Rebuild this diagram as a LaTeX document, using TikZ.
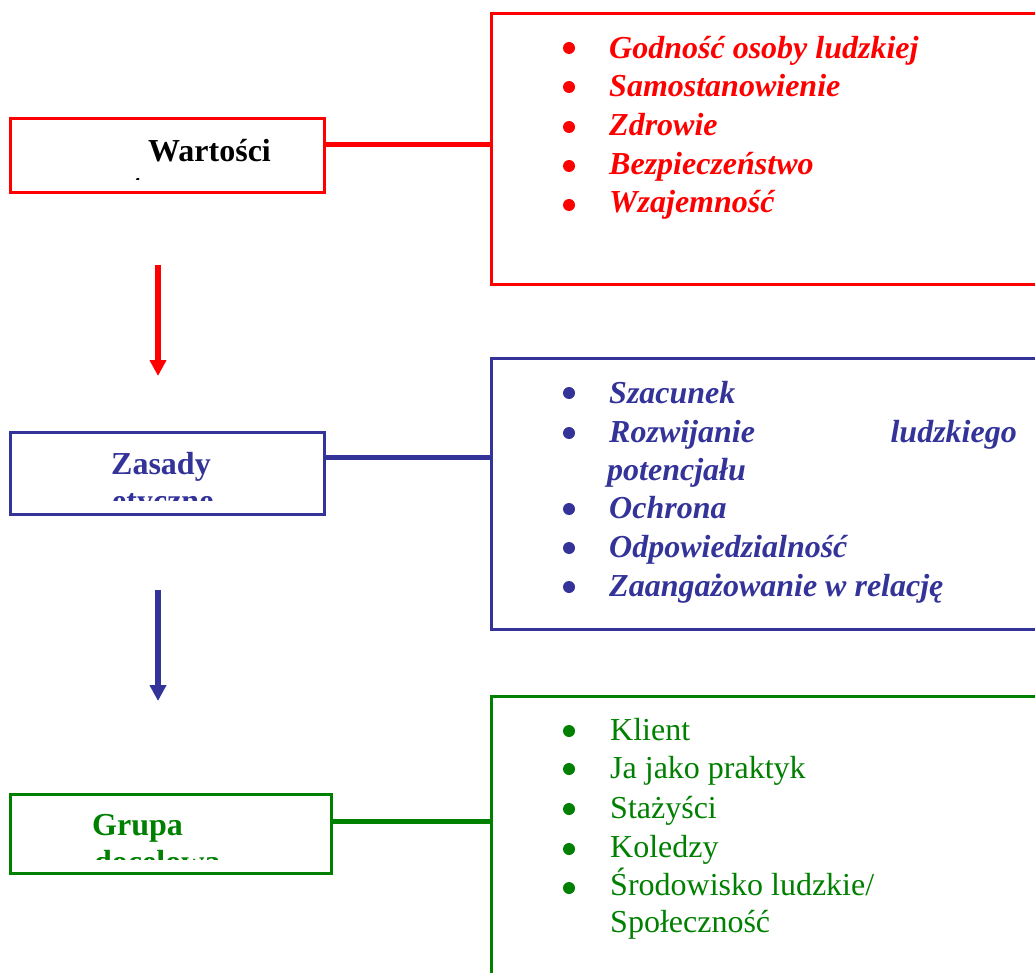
\documentclass[tikz,border=0pt]{standalone}
\usepackage{fontspec}
\setmainfont{Liberation Serif}
\usetikzlibrary{arrows.meta}
\definecolor{cred}{HTML}{FF0000}
\definecolor{cblue}{HTML}{333399}
\definecolor{cgreen}{HTML}{008000}
\begin{document}
\begin{tikzpicture}[x=1pt,y=-1pt,
  box/.style={draw, line width=2.8pt, inner sep=0pt, anchor=north west},
  bi/.style={anchor=base west, inner sep=0pt, font=\fontsize{32}{37}\selectfont\bfseries\itshape},
  rg/.style={anchor=base west, inner sep=0pt, font=\fontsize{32}{37}\selectfont},
  lbl/.style={anchor=base west, inner sep=0pt, font=\fontsize{32}{37}\selectfont\bfseries},
  bul/.style={circle, fill, inner sep=0pt, minimum size=12pt},
  conn/.style={line width=5pt},
  arr/.style={line width=6pt, -{Triangle[width=16pt,length=16pt]}}]
\useasboundingbox (0,0) rectangle (1035,973);
\clip (0,0) rectangle (1035,973);
\fill[white] (0,0) rectangle (1035,973);

% left boxes
\node[box, draw=cred, minimum width=314pt, minimum height=74pt] (wart) at (9,117) {};
\node[box, draw=cblue, minimum width=314pt, minimum height=82pt] (zas) at (9,431) {};
\node[box, draw=cgreen, minimum width=321pt, minimum height=79pt] (grupa) at (9,793) {};

% left labels (second lines clipped as in the original)
\begin{scope}
  \clip (12,120) rectangle (320,180);
  \node[lbl, text=black] (wartA) at (148,162) {Wartości};
  \node[lbl, text=black] (wartB) at (118,197) {etyczne};
\end{scope}
\begin{scope}
  \clip (12,434) rectangle (320,500);
  \node[lbl, text=cblue] (zasA) at (111,474) {Zasady};
  \node[lbl, text=cblue] (zasB) at (112,511) {etyczne};
\end{scope}
\begin{scope}
  \clip (12,796) rectangle (327,859);
  \node[lbl, text=cgreen] (grA) at (92,835) {Grupa};
  \node[lbl, text=cgreen] (grB) at (94,872) {docelowa};
\end{scope}

% right boxes
\node[box, draw=cred, minimum width=600pt, minimum height=271pt] (vals) at (490,12) {};
\node[box, draw=cblue, minimum width=600pt, minimum height=271pt] (princ) at (490,357) {};
\node[box, draw=cgreen, minimum width=600pt, minimum height=320pt] (target) at (490,695) {};

% connectors
\draw[conn, cred] (wart.east |- 0,145) -- (vals.west |- 0,145);
\draw[conn, cblue] (zas.east |- 0,457) -- (princ.west |- 0,457);
\draw[conn, cgreen] (grupa.east |- 0,821) -- (target.west |- 0,821);

% arrows
\coordinate (a1s) at (158,265);
\coordinate (a1e) at (158,376);
\coordinate (a2s) at (158,590);
\coordinate (a2e) at (158,701);
\draw[arr, cred] (a1s) -- (a1e);
\draw[arr, cblue] (a2s) -- (a2e);

% red list
\node[bul, fill=cred] (rb1) at (569,48) {};
\node[bul, fill=cred] (rb2) at (569,87) {};
\node[bul, fill=cred] (rb3) at (569,127) {};
\node[bul, fill=cred] (rb4) at (569,166) {};
\node[bul, fill=cred] (rb5) at (569,205) {};
\node[bi, text=cred] (r1) at (609,59) {Godność osoby ludzkiej};
\node[bi, text=cred] (r2) at (609,97) {Samostanowienie};
\node[bi, text=cred] (r3) at (609,136) {Zdrowie};
\node[bi, text=cred] (r4) at (609,175) {Bezpieczeństwo};
\node[bi, text=cred] (r5) at (609,213) {Wzajemność};

% blue list
\node[bul, fill=cblue] (bb1) at (569,393) {};
\node[bul, fill=cblue] (bb2) at (569,433) {};
\node[bul, fill=cblue] (bb3) at (569,509) {};
\node[bul, fill=cblue] (bb4) at (569,548) {};
\node[bul, fill=cblue] (bb5) at (569,587) {};
\node[bi, text=cblue] (p1) at (609,403) {Szacunek};
\node[bi, text=cblue] (p2) at (609,442) {Rozwijanie};
\node[bi, text=cblue, anchor=base east] (p2b) at (1017,442) {ludzkiego};
\node[bi, text=cblue] (p2c) at (607,480) {potencjału};
\node[bi, text=cblue] (p3) at (609,518) {Ochrona};
\node[bi, text=cblue] (p4) at (609,557) {Odpowiedzialność};
\node[bi, text=cblue] (p5) at (609,596) {Zaangażowanie w relację};

% green list
\node[bul, fill=cgreen] (gb1) at (569,731) {};
\node[bul, fill=cgreen] (gb2) at (569,769) {};
\node[bul, fill=cgreen] (gb3) at (569,809) {};
\node[bul, fill=cgreen] (gb4) at (569,849) {};
\node[bul, fill=cgreen] (gb5) at (569,888) {};
\node[rg, text=cgreen] (g1) at (610,740) {Klient};
\node[rg, text=cgreen] (g2) at (610,778) {Ja jako praktyk};
\node[rg, text=cgreen] (g3) at (610,818) {Stażyści};
\node[rg, text=cgreen] (g4) at (610,857) {Koledzy};
\node[rg, text=cgreen] (g5) at (610,895) {Środowisko ludzkie/};
\node[rg, text=cgreen] (g6) at (610,932) {Społeczność};
\end{tikzpicture}
\end{document}
